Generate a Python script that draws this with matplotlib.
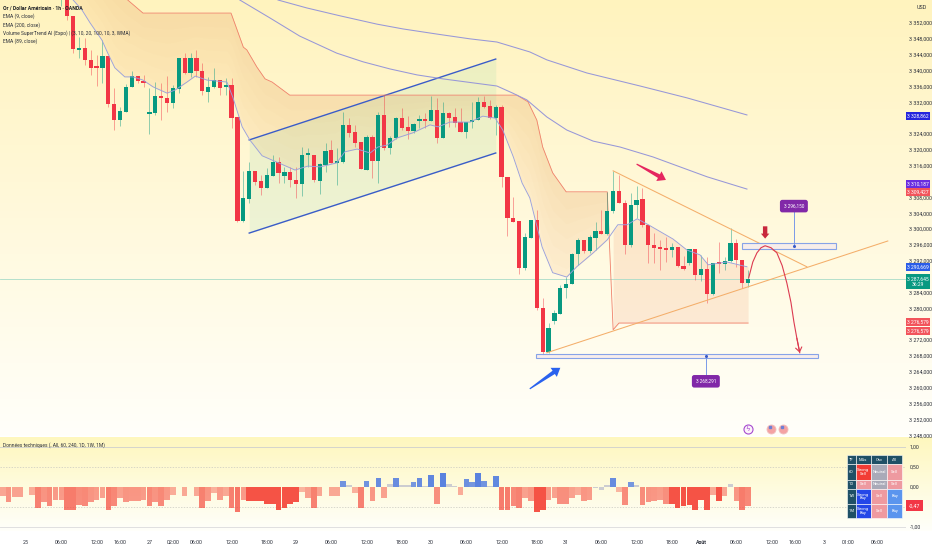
import numpy as np
import matplotlib
matplotlib.use("Agg")
import matplotlib.pyplot as plt
from matplotlib.patches import Polygon, Rectangle
from matplotlib.transforms import blended_transform_factory

plt.rcParams['font.family'] = ['Liberation Sans Narrow', 'Roboto', 'DejaVu Sans']

# candles, first one sits at bar 10 of the time scale
opens = [3359.0,3362.8,3353.8,3345.2,3345.7,3342.7,3340.9,3340.7,3343.7,3331.6,
         3327.5,3329.6,3335.9,3338.6,3337.4,3329.0,3329.3,3333.3,3333.1,3331.8,
         3335.4,3343.2,3339.4,3343.2,3339.9,3334.6,3335.9,3337.6,3335.9,3336.4,
         3328.3,3302.1,3307.6,3314.7,3312.2,3310.4,3313.4,3316.9,3313.4,3314.4,
         3312.4,3311.4,3318.7,3318.7,3312.1,3316.2,3320.0,3316.7,3316.9,3326.3,
         3324.5,3322.0,3314.9,3323.2,3317.2,3328.8,3320.5,3323.0,3328.0,3325.8,
         3324.8,3327.3,3327.5,3327.3,3330.1,3323.0,3329.3,3328.3,3327.0,3324.5,
         3327.0,3327.5,3332.1,3331.1,3328.0,3330.8,3313.2,3302.8,3302.1,3290.2,
         3297.8,3302.3,3280.1,3269.0,3276.8,3278.6,3285.2,3286.2,3293.7,3297.3,
         3294.5,3297.8,3299.5,3298.8,3304.6,3309.6,3306.6,3296.0,3306.1,3307.6,
         3301.1,3296.0,3295.3,3295.0,3294.7,3295.5,3290.7,3291.5,3295.0,3288.4,
         3290.0,3283.7,3291.5,3291.2,3292.0,3296.5,3292.2,3286.4]
highs = [3370.0,3368.0,3353.8,3348.5,3348.2,3345.2,3343.9,3347.7,3343.7,3335.6,
         3330.8,3336.6,3339.9,3338.6,3338.9,3335.6,3337.1,3336.9,3338.6,3336.4,
         3343.2,3344.4,3344.4,3345.2,3341.9,3338.4,3340.7,3337.6,3338.1,3338.1,
         3328.3,3314.7,3316.9,3314.7,3313.7,3315.4,3318.7,3318.2,3315.7,3315.7,
         3315.7,3320.7,3320.5,3318.7,3316.7,3321.7,3322.5,3320.5,3329.6,3328.0,
         3326.3,3322.0,3323.8,3323.8,3329.6,3333.8,3323.5,3328.3,3330.6,3328.5,
         3326.8,3328.8,3329.3,3333.6,3333.1,3332.1,3329.6,3330.6,3330.6,3327.0,
         3332.1,3333.3,3333.6,3332.6,3331.3,3331.3,3313.2,3308.1,3302.1,3299.0,
         3302.3,3304.8,3282.6,3276.3,3279.6,3285.9,3287.9,3294.0,3297.8,3297.3,
         3298.5,3301.8,3304.8,3309.4,3314.7,3313.7,3307.4,3309.1,3310.9,3310.4,
         3301.1,3299.0,3297.3,3298.0,3296.5,3295.5,3293.2,3295.0,3295.0,3293.5,
         3293.0,3291.5,3296.8,3293.0,3300.3,3297.5,3292.2,3289.7]
lows = [3356.3,3352.8,3344.4,3343.2,3341.4,3338.9,3336.1,3336.9,3330.8,3325.0,
        3326.0,3329.6,3335.9,3336.9,3335.9,3324.0,3328.8,3327.5,3329.6,3330.6,
        3334.3,3339.1,3338.4,3338.4,3333.8,3332.1,3335.6,3333.8,3333.8,3325.5,
        3301.8,3301.8,3306.6,3311.1,3308.6,3310.4,3313.4,3311.6,3311.6,3310.6,
        3307.9,3308.4,3315.7,3311.9,3308.9,3314.4,3316.7,3311.1,3316.7,3323.2,
        3320.7,3315.2,3314.9,3312.9,3311.6,3320.0,3319.0,3322.7,3325.0,3322.7,
        3324.3,3325.5,3325.5,3327.3,3321.7,3323.0,3325.8,3325.8,3324.5,3323.0,
        3325.5,3327.5,3330.6,3327.8,3323.8,3310.6,3298.3,3301.8,3288.7,3289.7,
        3297.8,3279.6,3268.3,3268.8,3276.1,3278.6,3282.6,3286.2,3291.0,3294.0,
        3294.0,3294.7,3298.8,3298.5,3304.1,3306.6,3293.7,3295.5,3302.8,3300.6,
        3291.5,3291.5,3289.7,3291.7,3293.0,3290.5,3289.7,3291.0,3287.2,3286.9,
        3281.4,3283.4,3289.0,3289.7,3291.7,3290.5,3285.2,3285.4]
closes = [3366.0,3353.8,3345.4,3345.7,3342.7,3340.7,3340.7,3343.7,3331.6,3327.5,
          3329.8,3335.9,3338.6,3337.4,3336.9,3329.6,3333.6,3333.1,3331.8,3335.6,
          3343.2,3339.4,3343.2,3339.9,3334.8,3335.9,3337.6,3335.6,3336.4,3328.0,
          3302.1,3307.9,3314.7,3311.9,3310.4,3313.7,3316.9,3314.2,3314.4,3312.4,
          3311.4,3318.7,3319.0,3312.4,3316.4,3319.7,3316.7,3316.9,3326.3,3324.3,
          3321.7,3315.2,3323.2,3317.2,3328.8,3320.5,3323.0,3328.0,3325.5,3324.8,
          3326.5,3327.5,3327.3,3330.1,3323.0,3329.3,3328.0,3326.8,3324.5,3327.0,
          3327.5,3332.1,3330.8,3328.0,3330.8,3313.2,3302.8,3301.8,3290.2,3298.0,
          3302.3,3280.1,3269.0,3275.1,3278.9,3285.2,3286.2,3293.7,3297.3,3294.5,
          3298.0,3299.5,3298.8,3304.6,3309.6,3306.6,3296.0,3306.1,3307.4,3301.1,
          3296.0,3295.3,3295.0,3294.7,3295.5,3290.7,3290.0,3295.0,3288.4,3290.0,
          3283.7,3291.5,3291.2,3292.0,3296.5,3292.2,3286.4,3287.4]

ema9_bar = [12.0,13.5,14.9,16.9,17.9,19.1,20.8,22.2,23.9,25.6,28.0,29.4,31.4,32.8,34.8,38.2,39.2,40.8,
            42.1,44.2,46.7,49.8,52.0,54.1,56.9,58.3,60.4,62.6,63.9,65.5,67.2,69.9,72.8,74.2,76.2,79.6,
            81.8,83.9,85.2,87.0,88.5,89.8,91.9,93.7,96.1,97.8,100.6,103.0,104.8,106.4,108.1,110.0,114.2,
            116.6,118.8,120.2,123.4,126.8]
ema9 = [3357.8,3355.3,3352.0,3347.7,3344.4,3340.7,3338.4,3338.4,3337.6,3335.9,3334.3,3335.1,3337.1,3338.6,
        3337.6,3337.1,3333.3,3325.8,3322.5,3318.5,3316.9,3314.9,3315.9,3315.7,3316.7,3319.5,3320.2,3319.2,
        3320.7,3321.2,3323.0,3324.3,3326.3,3325.8,3327.0,3327.0,3328.5,3328.0,3325.0,3318.2,3311.6,3307.9,
        3295.5,3289.0,3287.9,3290.5,3294.0,3297.3,3301.1,3301.1,3302.6,3301.1,3297.5,3294.7,3293.5,3291.0,
        3291.7,3290.5]
ema200_bar = [46.9,51.8,57.5,63.8,68.2,74.0,79.6,84.2,89.8,92.7,99.5,108.6,116.6,126.8]
ema200 = [3357.8,3355.8,3353.8,3351.7,3350.5,3349.2,3348.0,3347.2,3344.7,3342.7,3339.4,3336.1,3333.1,3328.8]
ema89_bar = [40.4,45.5,50.6,56.9,61.4,66.0,70.6,75.0,80.1,84.2,86.9,89.3,92.7,96.1,100.6,105.2,110.8,120.0,126.8]
ema89 = [3357.8,3353.3,3348.7,3344.4,3342.2,3340.4,3338.9,3337.9,3336.9,3336.1,3334.3,3332.6,3328.3,3325.0,
         3322.2,3320.7,3318.2,3313.2,3310.1]

# supertrend, the step at bar 103-104 flips it below price
st_bar = [12.0,21.3,23.9,38.9,41.0,41.6,43.3,44.7,45.9,48.9,87.6,89.5,91.0,92.0,93.7,96.0,103.0,104.0,105.0,127.0]
st_val = [3372.0,3357.8,3354.5,3354.5,3345.9,3345.2,3340.9,3337.9,3337.1,3333.8,3333.8,3332.1,3327.5,3320.7,
          3314.2,3309.4,3309.4,3274.6,3276.3,3276.3]

# technical ratings histogram, one per bar
ratings = [-.23,-.38,-.26,-.26,0,-.19,-.53,-.38,-.47,-.33,-.33,-.57,-.57,-.44,-.47,-.37,-.32,-.28,-.57,-.48,
           -.28,-.37,-.36,-.36,-.32,-.48,-.38,-.47,-.33,-.19,0,-.22,0,-.22,-.53,-.36,-.15,-.33,-.22,-.53,
           -.62,-.33,-.36,-.36,-.36,-.42,-.42,-.57,-.53,-.42,-.38,-.12,-.27,-.53,-.23,0,-.22,-.22,.16,.05,
           -.15,-.53,.16,-.36,.23,-.27,.08,.23,.05,.05,.12,.23,.02,.29,-.42,.34,.08,.02,-.19,.19,.13,.34,
           .16,.02,.28,-.57,-.57,-.47,-.53,-.28,-.36,-.62,-.57,-.32,-.28,-.42,-.42,-.28,-.19,-.36,-.32,-.02,
           -.08,.04,.23,-.12,-.44,.12,.05,-.44,-.38,-.36,-.32,-.42,-.42,-.53,-.48,-.46,-.57,-.32,-.57,-.21,
           -.36,-.23,.08,-.36,-.57,-.48]
strong_bars = [42,43,44,45,46,47,48,49,50,91,92,114,115,116,117,118,119,120,122]

# time axis
tick_bars = [4,10,16,20,25,29,33,39,45,50,56,62,68,73,79,85,91,96,102,108,114,119,125,131,135,140,144,149]
tick_labels = ['25','06:00','12:00','16:00','27','02:00','06:00','12:00','18:00','29','06:00','12:00','18:00',
               '30','06:00','12:00','18:00','31','06:00','12:00','18:00','Août','06:00','12:00','16:00','3',
               '01:00','06:00']
# the ticks sitting behind a price tag are left out
price_ticks = [p for p in range(3248, 3356, 4) if p not in (3276, 3288, 3312, 3328)]

# hand drawn tools on the chart
channel_bars = [42.0, 84.0]
channel_top = [3322.5, 3342.9]
channel_bottom = [3299.0, 3319.2]
wedge_top_bars = [104.0, 137.0]
wedge_top = [3314.7, 3290.5]
wedge_low_bars = [92.7, 150.8]
wedge_low = [3268.8, 3297.0]
path_bars = [127.1,127.8,128.5,129.2,129.9,130.9,131.9,132.8,133.6,134.3,134.8,135.3,135.8]
path_vals = [3287.7,3291.7,3294.0,3295.3,3295.8,3295.3,3294.0,3290.8,3286.4,3281.5,3276.6,3272.5,3268.8]

legend_lines = ['EMA (9, close)', 'EMA (200, close)',
                'Volume SuperTrend AI (Expo) | (3, 10, 20, 100, 10, 3, WMA)', 'EMA (89, close)']
tag_labels = ['3 328,862','3 310,187','3 309,427','3 290,669','3 287,645\n36:29','3 276,579','3 276,579']
tag_prices = [3328.6,3311.4,3309.3,3290.5,3286.7,3276.6,3274.3]
tag_colors = ['#2525dd','#6a2ce0','#f2545b','#2a5ce8','#089981','#f2545b','#f2545b']

table_rows = [['TF','MAs','Osc','All'],
              ['60','Strong\nSell','Neutral','Sell'],
              ['1D','Sell','Neutral','Sell'],
              ['1W','Strong\nBuy','Sell','Buy'],
              ['1M','Strong\nBuy','Sell','Buy']]

GREEN = '#089981'
RED = '#f23645'
W, H = 932, 550
TEXT = '#2a2e39'


def px_box(x0, y0, x1, y1):
    return [x0 / W, 1 - y1 / H, (x1 - x0) / W, (y1 - y0) / H]


fig = plt.figure(figsize=(9.32, 5.5), dpi=100, facecolor='white')

# background gradient for both panes
bg = fig.add_axes([0, 0, 1, 1], zorder=0)
grad = np.ones((H, 1, 3))
top_col = np.array([255, 243, 190]) / 255
low_col = np.array([255, 255, 250]) / 255
grad[:436, 0] = np.linspace(0, 1, 436)[:, None] * low_col + (1 - np.linspace(0, 1, 436))[:, None] * top_col
grad[437:531, 0] = np.linspace(0, 1, 94)[:, None] * low_col + (1 - np.linspace(0, 1, 94))[:, None] * np.array([254, 247, 190]) / 255
bg.imshow(grad, aspect='auto', extent=[0, W, H, 0])
bg.axis('off')

ax = fig.add_axes(px_box(0, 0, 906, 436), zorder=2)
ax.patch.set_alpha(0)
ax.set_xlim(-0.46, 153.9)
ax.set_ylim(3247.8, 3357.8)
for s in ax.spines.values():
    s.set_visible(False)

bars = np.arange(10, 10 + len(opens))
opens_a, highs_a, lows_a, closes_a = map(np.array, (opens, highs, lows, closes))
colors = [GREEN if c >= o else RED for o, c in zip(opens_a, closes_a)]

# supertrend fill, layered so it fades a little toward the ema
grid = np.arange(12, 127.01, 0.25)
st_line = np.interp(grid, st_bar, st_val)
ema_line = np.interp(grid, ema9_bar, ema9)
upper = grid <= 103.2
lower = grid >= 103.9
ax.fill_between(grid[upper], st_line[upper], ema_line[upper], color='#f79a4e', alpha=0.13, lw=0)
for frac in np.linspace(0.2, 0.9, 5):
    ax.fill_between(grid[upper], st_line[upper], st_line[upper] + frac * (ema_line[upper] - st_line[upper]),
                    color='#f79a4e', alpha=0.018, lw=0)
ax.fill_between(grid[lower], st_line[lower], ema_line[lower], color='#f28b62', alpha=0.16, lw=0)

# channel
ax.fill_between(channel_bars, channel_top, channel_bottom, color='#78cfa0', alpha=0.13, lw=0)
ax.plot(channel_bars, channel_top, color='#3a5cc8', lw=1.0)
ax.plot(channel_bars, channel_bottom, color='#3a5cc8', lw=1.0)

# last price line
ax.axhline(closes[-1], color='#a8dcc8', lw=0.6, zorder=2)

ax.plot(st_bar, st_val, color='#f0806a', lw=0.6)
ax.plot(ema200_bar, ema200, color='#9797d8', lw=0.75)
ax.plot(ema89_bar, ema89, color='#9797d8', lw=0.75)

ax.vlines(bars, lows_a, highs_a, colors=colors, lw=0.7, alpha=0.45, zorder=3)
body_h = np.maximum(np.abs(closes_a - opens_a), 0.45)
ax.bar(bars, body_h, bottom=np.minimum(opens_a, closes_a), width=0.72, color=colors, lw=0, zorder=4)
ax.plot(ema9_bar, ema9, color='#9aa0dc', lw=0.65, zorder=5)

# wedge lines
ax.plot(wedge_top_bars, wedge_top, color='#f4ae6a', lw=0.75, zorder=5)
ax.plot(wedge_low_bars, wedge_low, color='#f4ae6a', lw=0.75, zorder=5)

# zones with price callouts
for x0, x1, y0, y1, xc, label, yl in [(126.0, 142.0, 3295.0, 3296.6, 134.8, '3 296,150', 3305.8),
                                      (90.9, 138.9, 3267.5, 3268.6, 119.8, '3 268,291', 3261.6)]:
    ax.add_patch(Rectangle((x0, y0), x1 - x0, y1 - y0, fc='#f7ecec', ec='#7a9ae8', lw=0.8, alpha=0.9, zorder=6))
    ax.plot([xc, xc], [(y0 + y1) / 2, yl], color='#7a9ae8', lw=0.7, zorder=6)
    ax.plot([xc], [(y0 + y1) / 2], 'o', ms=1.2, color='#3a5cc8', zorder=7)
    ax.text(xc, yl, label, color='white', fontsize=3.4, ha='center', va='center', zorder=8,
            bbox=dict(boxstyle='round,pad=0.8,rounding_size=0.5', fc='#8128a8', ec='none'))

# projected move
ax.plot(path_bars, path_vals, color='#dc3a50', lw=0.8, zorder=7)
ax.annotate('', xy=(path_bars[-1], path_vals[-1]), xytext=(path_bars[-2], path_vals[-2]),
            arrowprops=dict(arrowstyle='->,head_length=0.35,head_width=0.25', color='#dc3a50', lw=0.8,
                            shrinkA=0, shrinkB=0, mutation_scale=9), zorder=7)


def fat_arrow(start, end, color, tail=0.6, head=5.5, head_len=8, neck=2.0):
    # tapered arrow, built in pixels so the shape does not depend on the scales
    p0, p1 = ax.transData.transform([start, end])
    d = p1 - p0
    n = np.linalg.norm(d)
    u, v = d / n, np.array([-d[1], d[0]]) / n
    b = p1 - u * head_len
    pts = [p0 + v * tail, b + v * neck, b + v * head, p1, b - v * head, b - v * neck, p0 - v * tail]
    ax.add_patch(Polygon(pts, closed=True, fc=color, ec='none', transform=None, zorder=8))


fat_arrow((108.0, 3316.4), (113.0, 3312.4), '#e5265f')
fat_arrow((89.8, 3259.7), (95.0, 3265.0), '#2a62ee')
fat_arrow((129.9, 3300.7), (129.9, 3297.6), '#c8283c', tail=2.2, head=4.2, head_len=5, neck=2.2)

# event icons
ax.plot([127.0], [3249.6], 'o', ms=6.5, mfc='#fdf2fb', mec='#a64bd0', mew=0.8, zorder=8, clip_on=False)
ax.text(127.0, 3249.5, 'ϟ', color='#a64bd0', fontsize=5, ha='center', va='center', zorder=9,
        family='DejaVu Sans')
for b in (130.9, 133.0):
    ax.plot([b], [3249.6], 'o', ms=6.5, mfc='#f4a3a3', mec='#f0c0c0', mew=0.6, zorder=8)
    ax.plot([b - 0.2], [3250.0], 's', ms=1.9, color='#6f7fd4', zorder=9)

# axes text
ax.yaxis.tick_right()
ax.set_yticks(price_ticks)
ax.set_yticklabels([f'3 {p - 3000},000' for p in price_ticks], fontsize=3.9, color=TEXT)
ax.tick_params(axis='y', length=0, pad=2.2)
ax.set_xticks([])

tr = blended_transform_factory(ax.transAxes, ax.transData)
for label, price, col in zip(tag_labels, tag_prices, tag_colors):
    h = 3.7 if '\n' in label else 2.1
    ax.add_patch(Rectangle((1.0, price - h / 2), 24 / 906, h, fc=col, ec='none', transform=tr, clip_on=False, zorder=10))
    ax.text(1.0 + 12 / 906, price, label, color='white', fontsize=3.6, ha='center', va='center', transform=tr,
            zorder=11, linespacing=1.0)

ax.text(922 / 906, 0.982, 'USD', transform=ax.transAxes, fontsize=3.9, color=TEXT, ha='center', va='center')
ax.text(3 / 906, 1 - 8 / 436, 'Or / Dollar Américain · 1h · OANDA', transform=ax.transAxes, fontsize=3.7,
        color='#1a1c22', va='center', fontweight='bold', zorder=12)
for k, line in enumerate(legend_lines):
    ax.text(3 / 906, 1 - (16.5 + 8.3 * k) / 436, line, transform=ax.transAxes, fontsize=3.55, color=TEXT,
            va='center', zorder=12)

# ratings pane
pane = fig.add_axes(px_box(0, 437, 906, 530), zorder=2)
pane.patch.set_alpha(0)
pane.set_xlim(-0.46, 153.9)
pane.set_ylim(-1.075, 1.25)
for s in pane.spines.values():
    s.set_visible(False)
rate_bars = np.arange(len(ratings))
rate_cols = []
for i, v in zip(rate_bars, ratings):
    a = min(0.3 + abs(v) * 0.7, 0.8)
    if i in strong_bars:
        a = 0.92
    if abs(v) < 0.1:
        rate_cols.append((0.72, 0.72, 0.8, 0.7))
    elif v < 0:
        rate_cols.append((0.96, 0.27, 0.22, a))
    else:
        rate_cols.append((0.27, 0.45, 0.88, min(a + 0.35, 0.95)))
pane.bar(rate_bars, ratings, width=0.96, color=rate_cols, lw=0, zorder=3)
pane.axhline(1, color='#d4d4cc', lw=0.7)
pane.axhline(-1, color='#e0e0e0', lw=0.7)
for lvl in (0.5, -0.5):
    pane.axhline(lvl, color='#c9c9c0', lw=0.5, ls=(0, (2, 2)))
pane.yaxis.tick_right()
pane.set_yticks([1, 0.5, 0, -0.5, -1])
# -0,50 sits behind the current value tag, so it gets no label
pane.set_yticklabels(['1,00', '0,50', '0,00', '', '-1,00'], fontsize=3.9, color=TEXT)
pane.tick_params(axis='y', length=0, pad=2.5)
pane.set_xticks(tick_bars)
pane.set_xticklabels(tick_labels, fontsize=3.8, color=TEXT)
pane.tick_params(axis='x', length=0, pad=7.0)
for lab in pane.get_xticklabels():
    if lab.get_text() == 'Août':
        lab.set_fontweight('bold')
pane.text(3 / 906, 1 - 8 / 93, 'Données techniques (, All, 60, 240, 1D, 1W, 1M)', transform=pane.transAxes,
          fontsize=3.55, color=TEXT, va='center')
pane_tr = blended_transform_factory(pane.transAxes, pane.transData)
pane.add_patch(Rectangle((1.0, -0.47 - 0.14), 17 / 906, 0.28, fc=RED, ec='none', transform=pane_tr,
                         clip_on=False, zorder=6))
pane.text(1.0 + 8.5 / 906, -0.47, '-0,47', color='white', fontsize=3.8, ha='center', va='center',
          transform=pane_tr, zorder=7)

# ratings table
tab_ax = fig.add_axes(px_box(847, 455, 902, 518), zorder=5)
tab_ax.axis('off')
fills = {'TF': '#1f5066', 'MAs': '#1f5066', 'Osc': '#1f5066', 'All': '#1f5066', '60': '#1f5066', '1D': '#1f5066',
         '1W': '#1f5066', '1M': '#1f5066', 'Strong\nSell': '#f23c35', 'Sell': '#ee9aa0', 'Neutral': '#a9aab8',
         'Strong\nBuy': '#2447e8', 'Buy': '#5b95ee'}
cell_cols = [[fills[c] for c in row] for row in table_rows]
col_w = [26, 45, 49, 44]
tbl = tab_ax.table(cellText=table_rows, cellColours=cell_cols, bbox=[0, 0, 1, 1],
                   colWidths=[w / sum(col_w) for w in col_w], cellLoc='center')
tbl.auto_set_font_size(False)
row_h = [9.3, 15, 9.6, 14, 14.3]
for (r, c), cell in tbl.get_celld().items():
    cell.set_edgecolor('white')
    cell.set_linewidth(0.4)
    cell.set_height(row_h[r] / sum(row_h))
    cell.PAD = 0.02
    t = cell.get_text()
    t.set_color('white')
    t.set_fontsize(3.0)
    t.set_linespacing(0.95)

fig.savefig('out.png', dpi=100)
